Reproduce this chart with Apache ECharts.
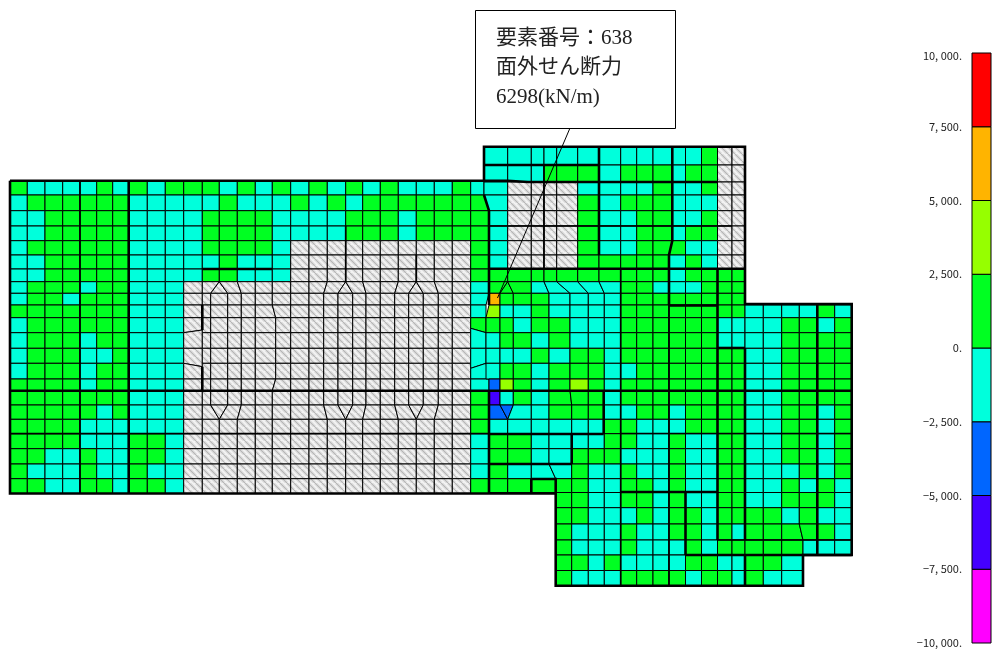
<!DOCTYPE html>
<html>
<head>
<meta charset="utf-8">
<title>面外せん断力</title>
<style>
  html, body { margin: 0; padding: 0; background: #fff; }
  #chart { width: 994px; height: 650px; }
</style>
<script src="https://cdn.jsdelivr.net/npm/echarts@6/dist/echarts.min.js"></script>
</head>
<body>
<div id="chart"></div>
<script>
// contour bands, bottom to top
var bandLimits = [-10000, -7500, -5000, -2500, 0, 2500, 5000, 7500, 10000];
var bandColors = ['#ff00ff', '#4400ff', '#0066ff', '#00ffdc', '#00ff22', '#96ff00', '#ffb400', '#ff0000'];
var tickLabels = ['−10, 000.', '−7, 500.', '−5, 000.', '−2, 500.', '0.', '2, 500.', '5, 000.', '7, 500.', '10, 000.'];

// value read for each letter in the row strings, '.' = no result (hatched)
var levels = { g: 1250, c: -1250, y: 3750, o: 6298, b: -3750, p: -6250, '.': null };

var calloutText = ['要素番号：638', '面外せん断力', '6298(kN/m)'];

// mesh row edges, top to bottom
var rowY = [146.7, 165, 180.7, 195, 210.7, 226, 240.7, 255, 269, 281.7, 293.3, 305, 317.7, 332.7, 348.3,
  363.3, 379, 390.7, 405, 419.3, 433.7, 448.7, 464, 478.7, 493.5, 507.7, 524, 540, 555, 570.5, 585.7];

// mesh column edges of each part
var colsWest = [10, 27.3, 45, 62.7, 80, 96.7, 112.7, 128.7, 147.3, 165.3, 183.7, 202.3, 219.3, 237.3, 255.3,
  272.3, 290.7, 309, 327.3, 345.7, 362.7, 380.3, 398.3, 416.3, 434.3, 452.3, 470.7, 489];
var colsHatchTop = [183.7, 202.3, 219.3, 219.3, 237.3, 255.3, 272.3, 290.7, 309, 327.3, 345.7, 345.7, 362.7,
  380.3, 398.3, 416.3, 416.3, 434.3, 452.3, 470.7];
var colsHatchHex = [183.7, 202.3, 210.7, 227.7, 241.3, 255.3, 272.3, 290.7, 309, 323.7, 338, 352.7, 366,
  380.3, 394.7, 408.7, 423.3, 438.3, 452.3, 470.7];
var colsNorth = [484, 507.7, 531.3, 544, 556.7, 577.7, 599, 620.7, 636.7, 653, 672.3, 685.5, 701.5, 717.5, 732, 745];
var colsMidTop = [489, 507.7, 507.7, 531.3, 544, 556.7, 577.7, 599, 620.7, 636.7, 653, 669, 685.5, 701.5, 717.5, 732, 745];
var colsMid = [489, 500, 513.3, 531.3, 549, 570, 588.3, 604.3, 620.7, 636.7, 653, 669, 685.5, 701.5, 717.5,
  732, 745, 763.3, 781.7, 799.3, 817.3, 834.7, 851.7];

// west part, rows 2..8, all 27 columns
var westTopRows = [
  'gccccgcgcgggcgcgcgcgcgcccgc',
  'cggggggcccccgcccgcgcggggggg',
  'ccgggggcccc' + 'gggg' + 'cccc' + 'ggg' + 'c' + 'gggg',
  'ccgggggcccc' + 'gggg' + 'cccc' + 'ggg' + 'c' + 'gggg',
  'cggggggcccc' + 'ggggc' + '..........' + 'g',
  'ccgggggccc' + 'ccgccc' + '..........' + 'g',
  'ccgggggccc' + 'cggccc' + '..........' + 'g'
];
// west part, rows 9..23, first 10 columns
var westLowRows = ['cgggcggccc', 'cggcgggccc', 'gggggggccc', 'cggggggccc', 'cgggcggccc', 'cgggccgccc', 'cgggcggccc',
  'ggggcggccc', 'gggggggccc', 'gggggcgccc', 'ggggcccccc', 'ggggcccggc', 'ggccgccggc', 'gcccgccgcc', 'ggccggcggc'];
// column between the hatched area and the middle part, rows 9..23
var seamCol = ['c', 'c', 'c', 'g', 'c', 'c', 'c', 'c', 'g', 'g', 'g', 'c', 'c', 'c', 'g'];
// north part, rows 0..7, then row 8 on the first rows of the middle columns
var northRows = [
  'ccccccccccccg..',
  'cccgggcgggcgg..',
  'c....ccccgccg..',
  'c....gcgggccc..',
  'c....gccggccg..',
  'c....gccggcgg..',
  'c....gccgggcc..',
  'c....gggggcgc..'
];
var row8 = 'ggggggggggcgggg';
// middle part, rows 9..23
var midRows = [
  'gggcccccggcccggg',
  'ogggccccgggggggg',
  'yccgccccggggggggccccgc',
  'ggcggcccggggggccccggcg',
  'cggcgcccggggggccccgggg',
  'cccgcggcggggggggccgggg',
  'cggcgggccgggggggccgggg',
  'bygcgygcggggggggccgggg',
  'pcgcgggcggggggggccgggg',
  'bbccgggccggcggggccggcg',
  'cccccccggcccggggccggcg',
  'gggccccggccgccggccggcg',
  'gggccgggcccgccggccggcg',
  'ggcccgccgccgccggcccgcg',
  'ggggggccggcgccggccgcgc'
];
// south part, rows 24..29, from the column at the re-entrant corner
var southRows = [
  'ggccggcgccggccgggc',
  'ggcccgcggcggggcgcc',
  'gcccgccggcgcgggggc',
  'gcccgcccgcgggggccc',
  'ggcgccccggccggc',
  'gcccggggcggcgcc'
];

// heavier member lines of the model
var heavyLines = [
  [[10, 180.7], [484, 180.7], [484, 146.7], [745, 146.7], [745, 304], [851.7, 304], [851.7, 555], [803, 555],
    [803, 585.7], [555.7, 585.7], [555.7, 493.5], [10, 493.5], [10, 180.7]],
  [[128.7, 180.7], [128.7, 493.5]],
  [[484, 165], [599, 165]],
  [[484, 180.7], [507.7, 180.7], [528, 182], [717.5, 182]],
  [[599, 146.7], [599, 255]],
  [[672.3, 146.7], [672.3, 240.7], [669, 255], [669, 305]],
  [[484, 195], [489, 210.7], [489, 305]],
  [[489, 268.7], [745, 268.7]],
  [[717.5, 268.7], [717.5, 540]],
  [[669, 305.5], [717.5, 305.5]],
  [[10, 390.7], [851.7, 390.7]],
  [[489, 390.7], [489, 493.5]],
  [[489, 434], [603.7, 434]],
  [[603.7, 391], [603.7, 434]],
  [[489, 464], [571.7, 464]],
  [[571.7, 434], [571.7, 464]],
  [[531.3, 479], [555.7, 479], [555.7, 493.5]],
  [[531.3, 479], [531.3, 493.5]],
  [[620.7, 492], [717.5, 492]],
  [[685.5, 492], [685.5, 555]],
  [[685.5, 555], [851.7, 555]],
  [[717.5, 348], [745, 348]],
  [[745, 348], [745, 540]],
  [[745, 555], [745, 585.7]],
  [[817.3, 304], [817.3, 555]],
  [[202.3, 269], [272.3, 269]],
  [[202.3, 305], [202.3, 330]],
  [[202.3, 366.7], [202.3, 390.7]]
];
var mediumLines = [
  [[80, 180.7], [80, 493.5]],
  [[10, 433.7], [489, 433.7]],
  [[544, 165], [544, 268.7]],
  [[489, 226], [732, 226]],
  [[620.7, 268.7], [620.7, 585.7]],
  [[669, 305], [669, 585.7]],
  [[717.5, 433.5], [851.7, 433.5]],
  [[717.5, 540], [851.7, 540]],
  [[620.7, 433.5], [717.5, 433.5]],
  [[345.7, 226], [345.7, 281.7]],
  [[416.3, 255], [416.3, 281.7]]
];
var leaderLine = [[570, 128], [497.5, 298]];

// helper for a copy of a column list with a few edges moved
function moved(list, changes) {
  return list.map(function (x, i) { return i in changes ? changes[i] : x; });
}

var cells = [];
function addStrip(yTop, yBot, xTop, xBot, codes) {
  for (var i = 0; i < codes.length; i++) {
    var t0 = Array.isArray(yTop) ? yTop[i] : yTop, t1 = Array.isArray(yTop) ? yTop[i + 1] : yTop;
    var b0 = Array.isArray(yBot) ? yBot[i] : yBot, b1 = Array.isArray(yBot) ? yBot[i + 1] : yBot;
    cells.push([xTop[i], t0, xTop[i + 1], t1, xBot[i + 1], b1, xBot[i], b0, levels[codes[i]]]);
  }
}
function blanks(n) { return new Array(n + 1).join('.'); }

var colsWestShort = moved(colsWest, { 27: 484 });
var colsWestLeft = colsWest.slice(0, 11);
var colsHatchBase = colsWest.slice(10, 27);
var colsHatchWide = moved(colsHatchHex, { 6: 275.7 });

// west part
westTopRows.forEach(function (codes, i) {
  var r = i + 2;
  addStrip(rowY[r], rowY[r + 1], r <= 3 ? colsWestShort : colsWest, r === 2 ? colsWestShort : colsWest, codes);
});
westLowRows.forEach(function (codes, i) {
  addStrip(rowY[i + 9], rowY[i + 10], colsWestLeft, colsWestLeft, codes);
});

// hatched part, the bent lines follow the openings
addStrip(rowY[9], rowY[10], colsHatchTop, colsHatchHex, blanks(19));
addStrip(rowY[10], rowY[11], colsHatchHex, colsHatchHex, blanks(19));
addStrip(rowY[11], rowY[12], colsHatchHex, colsHatchWide, blanks(19));
addStrip([rowY[12], rowY[12]], [rowY[13], 330], [183.7, 202.3], [183.7, 202.3], '.');
addStrip([rowY[13], 330], [rowY[14], rowY[14]], [183.7, 202.3], [183.7, 202.3], '.');
addStrip([rowY[14], rowY[14]], [rowY[15], 366.7], [183.7, 202.3], [183.7, 202.3], '.');
addStrip([rowY[15], 366.7], [rowY[16], rowY[16]], [183.7, 202.3], [183.7, 202.3], '.');
for (var r = 12; r < 16; r++) {
  addStrip(rowY[r], rowY[r + 1], colsHatchWide.slice(1), colsHatchWide.slice(1), blanks(18));
}
addStrip(rowY[16], rowY[17], colsHatchWide, colsHatchHex, blanks(19));
addStrip(rowY[17], rowY[18], colsHatchHex, colsHatchHex, blanks(19));
addStrip(rowY[18], rowY[19], colsHatchHex, colsHatchTop, blanks(19));
for (r = 19; r < 24; r++) {
  addStrip(rowY[r], rowY[r + 1], colsHatchBase, colsHatchBase, blanks(16));
}

// north part
var colsNorthFar = moved(colsNorth, { 0: 489 });
var colsNorthBent = moved(colsNorthFar, { 10: 669 });
northRows.forEach(function (codes, i) {
  var top = i === 2 ? 182 : rowY[i], bot = i === 1 ? 182 : rowY[i + 1];
  var xTop = i <= 3 ? colsNorth : colsNorthFar, xBot = i <= 2 ? colsNorth : (i === 6 || i === 7 ? colsNorthBent : colsNorthFar);
  if (i === 7) xTop = colsNorthBent;
  addStrip(top, bot, xTop, xBot, codes);
});
var colsRow8 = moved(colsNorth, { 0: 489, 10: 669 });
addStrip(rowY[8], rowY[9], colsRow8, colsRow8, row8);

// seam column between the hatched area and the middle part
var seamEdge = [489, 489, 486, 486, 486, 486, 486, 489, 489, 489, 489, 489, 489, 489, 489, 489];
var seamYLeft = { 13: 328.3, 15: 368.3 };
seamCol.forEach(function (code, i) {
  var r = i + 9;
  var top = [seamYLeft[r] || rowY[r], rowY[r]];
  var bot = [seamYLeft[r + 1] || rowY[r + 1], r === 23 ? 493.5 : rowY[r + 1]];
  addStrip(top, bot, [470.7, seamEdge[i]], [470.7, seamEdge[i + 1]], code);
});

// middle part, the column lists change row by row
var colsMidBent = moved(colsMid, { 0: 486 });
var colsMidShift = moved(colsMid, { 5: 571.7 });
var colsMidPinch = moved(colsMidShift, { 1: 507.7, 2: 507.7 });
var colsMidEnd = moved(colsMidPinch, { 4: 555.7 });
var midTops = [colsMidTop, colsMid, colsMid, colsMidBent, colsMidBent, colsMidBent, colsMidBent, colsMid, colsMid,
  colsMidShift, colsMidPinch, colsMidPinch, colsMidPinch, colsMidPinch, colsMidEnd];
var midBots = [colsMid, colsMid, colsMidBent, colsMidBent, colsMidBent, colsMidBent, colsMidBent, colsMid, colsMidShift,
  colsMidPinch, colsMidPinch, colsMidPinch, colsMidPinch, colsMidEnd, colsMidEnd];
midRows.forEach(function (codes, i) {
  var r = i + 9;
  addStrip(rowY[r], r === 23 ? 492.5 : rowY[r + 1], midTops[i], midBots[i], codes);
});

// south part
var colsSouth = moved(colsMid.slice(4), { 0: 555.7, 1: 571.7 });
var colsSouthBent = moved(colsSouth, { 15: 803 });
var southTops = [colsSouth, colsSouth, colsSouth, colsSouthBent, colsSouthBent, colsSouthBent];
var southBots = [colsSouth, colsSouth, colsSouthBent, colsSouthBent, colsSouthBent, colsSouthBent];
southRows.forEach(function (codes, i) {
  var r = i + 24;
  addStrip(r === 24 ? 492.5 : rowY[r], rowY[r + 1], southTops[i], southBots[i], codes);
});

function bandColor(v) {
  for (var i = 0; i < bandColors.length; i++) {
    if (v < bandLimits[i + 1]) return bandColors[i];
  }
  return bandColors[bandColors.length - 1];
}

// hatch tile for the areas without a result
function hatchTile() {
  var c = document.createElement('canvas');
  c.width = 7;
  c.height = 7;
  var g = c.getContext('2d');
  g.fillStyle = '#f2f2f2';
  g.fillRect(0, 0, 7, 7);
  [[-7, 0], [0, 0], [7, 0]].forEach(function (o) {
    g.beginPath();
    g.moveTo(o[0], 0);
    g.lineTo(o[0] + 7, 7);
    g.strokeStyle = '#d6d6d6';
    g.lineWidth = 3;
    g.stroke();
    g.strokeStyle = '#a0a0a0';
    g.lineWidth = 0.6;
    g.stroke();
  });
  return { image: c, repeat: 'repeat' };
}
var hatch = hatchTile();

function lineSeries(list, width, z) {
  return {
    type: 'lines',
    coordinateSystem: 'cartesian2d',
    polyline: true,
    silent: true,
    z: z,
    lineStyle: { color: '#000', width: width, opacity: 1 },
    data: list.map(function (p) { return { coords: p }; })
  };
}

var chart = echarts.init(document.getElementById('chart'));
chart.setOption({
  animation: false,
  backgroundColor: '#fff',
  grid: [
    { left: 0, right: 0, top: 0, bottom: 0 },
    { left: 972, width: 19, top: 53, height: 590 }
  ],
  xAxis: [
    { type: 'value', min: 0, max: 994, show: false },
    { type: 'value', min: 0, max: 1, show: false, gridIndex: 1 }
  ],
  yAxis: [
    { type: 'value', min: 0, max: 650, inverse: true, show: false },
    {
      type: 'value', gridIndex: 1, min: -10000, max: 10000, interval: 2500,
      axisLine: { show: false }, axisTick: { show: false }, splitLine: { show: false },
      axisLabel: {
        margin: 10,
        fontFamily: '"Noto Sans CJK JP"',
        fontSize: 11,
        lineHeight: 6,
        color: '#222',
        verticalAlignMaxLabel: 'top',
        formatter: function (v) { return tickLabels[bandLimits.indexOf(v)]; }
      }
    }
  ],
  graphic: [{
    type: 'group',
    z: 50,
    children: [
      { type: 'rect', shape: { x: 475.5, y: 10.5, width: 200, height: 118 }, style: { fill: '#fff', stroke: '#000', lineWidth: 1 } }
    ].concat(calloutText.map(function (t, i) {
      return {
        type: 'text', x: 496, y: 38 + i * 29.5,
        style: { text: t, fill: '#222', font: '21px "Liberation Serif", "Noto Sans CJK JP"', textVerticalAlign: 'middle' }
      };
    }))
  }],
  series: [
    {
      type: 'custom',
      coordinateSystem: 'cartesian2d',
      silent: true,
      z: 2,
      encode: { x: [0, 2, 4, 6], y: [1, 3, 5, 7] },
      data: cells,
      renderItem: function (params, api) {
        var c = cells[params.dataIndex];
        return {
          type: 'polygon',
          shape: { points: [api.coord([c[0], c[1]]), api.coord([c[2], c[3]]), api.coord([c[4], c[5]]), api.coord([c[6], c[7]])] },
          style: { fill: c[8] === null ? hatch : bandColor(c[8]), stroke: '#000', lineWidth: 1 }
        };
      }
    },
    lineSeries(mediumLines, 1.7, 3),
    lineSeries(heavyLines, 2.6, 4),
    lineSeries([leaderLine], 1, 5),
    {
      type: 'custom',
      coordinateSystem: 'cartesian2d',
      xAxisIndex: 1,
      yAxisIndex: 1,
      silent: true,
      z: 2,
      encode: { x: [0, 1], y: [2, 3] },
      data: bandColors.map(function (c, i) { return [0, 1, bandLimits[i], bandLimits[i + 1]]; }),
      renderItem: function (params, api) {
        var a = api.coord([api.value(0), api.value(3)]);
        var b = api.coord([api.value(1), api.value(2)]);
        return {
          type: 'rect',
          shape: { x: a[0], y: a[1], width: b[0] - a[0], height: b[1] - a[1] },
          style: { fill: bandColors[params.dataIndex], stroke: '#000', lineWidth: 1 }
        };
      }
    }
  ]
});
</script>
</body>
</html>
